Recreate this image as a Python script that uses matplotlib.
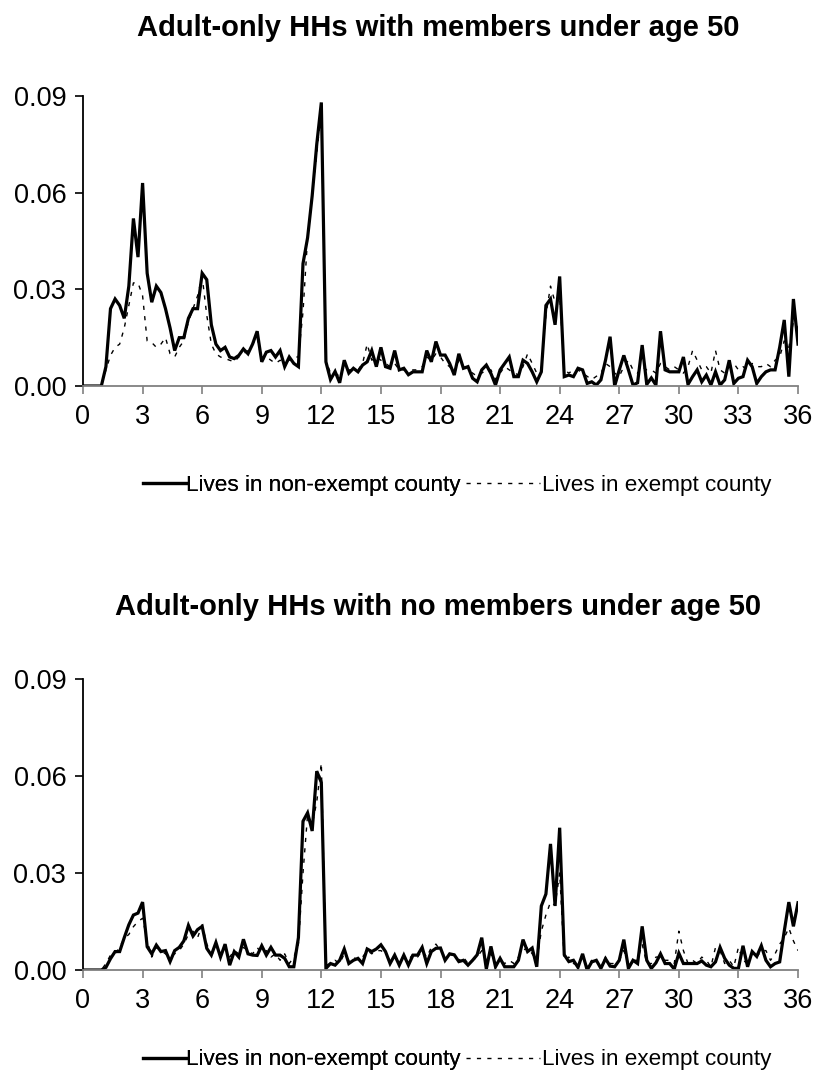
import numpy as np
import matplotlib
matplotlib.use("Agg")
import matplotlib.pyplot as plt

plt.rcParams['font.family'] = ['Liberation Sans', 'DejaVu Sans']

# weekly shares (in thousandths), weeks 0..156, 13 weeks per row
top_nonexempt = [
    0, 0, 0, 0, 0, 6, 24, 27, 25, 21, 31, 52, 40,
    63, 35, 26, 31, 29, 24, 18, 11, 15, 15, 21, 24, 24,
    35, 33, 19, 13, 11, 12, 9, 8.5, 9.5, 11.5, 10, 13, 17,
    7.5, 10.5, 11, 9, 11, 6, 9, 7, 6, 38, 46, 59, 75,
    88, 7.5, 2, 4.5, 1, 8, 4, 5.5, 4.4, 6.5, 7.5, 11, 6,
    12, 6, 5.5, 11, 5, 5.5, 3.5, 4.4, 4.4, 4.4, 11, 7.5, 13.8,
    9.6, 9.6, 7, 3.4, 10, 5.5, 6, 2.4, 1.3, 5, 6.5, 3.9, 0.3,
    5, 7, 9, 2.9, 2.9, 8, 7, 4.4, 1.3, 4.4, 25, 27, 19,
    34, 2.9, 3.4, 2.9, 5.5, 5, 0.8, 1.3, 0.3, 1.9, 8, 15.3, 0,
    5, 9.5, 5, 0.3, 1, 12.7, 0.5, 2.5, 0.3, 17, 5, 4.4, 4.4,
    4.4, 9, 0.5, 2.9, 5, 1.3, 3.4, 0.3, 4.4, 0.3, 1.9, 8, 0.8,
    2.4, 2.9, 8, 6, 0.8, 2.9, 4.4, 5, 5, 12, 20.5, 2.9, 27,
    13,
]
top_exempt = [
    0, 0, 0, 0, 0, 5, 9.5, 12, 13, 18, 25, 32, 32,
    28, 14, 13.5, 12, 13, 15, 10, 9, 12, 14, 20, 24, 28,
    34, 22, 13, 10, 9, 8.5, 8, 7.5, 9, 10, 11, 13, 15,
    8, 9, 8, 7, 8, 7.5, 8, 9, 9, 23, 46, 59, 72,
    86, 8, 4, 4, 3, 6, 5, 5, 5, 7, 13, 8, 9,
    8, 7, 6, 7, 5, 5, 4.5, 5, 5, 6, 9, 8, 10,
    9, 7, 6, 4, 8, 6, 5, 4, 3, 4, 5, 5, 2,
    4, 6, 5, 4, 3.5, 6, 10, 7, 4, 5, 22, 31, 26,
    28, 5, 4, 5, 5, 4, 3, 2, 3, 4, 7, 6, 4,
    3, 6, 8, 5, 4, 6, 5, 5, 4, 7, 6, 5, 6,
    5, 4, 6, 11, 8, 5, 6, 4, 11, 5, 4, 6, 7,
    5, 6, 5, 7, 6, 6, 7, 6, 8, 9, 14, 12, 20,
    18,
]
bot_nonexempt = [
    0, 0, 0, 0, 0, 0.8, 3.5, 5.7, 5.7, 10, 14, 17, 17.6,
    21, 7.2, 5, 7.7, 5.7, 6, 2.6, 6, 7, 9, 13.8, 10.5, 12.5,
    13.5, 6.7, 4.6, 8.5, 4, 8, 1.5, 5.7, 4, 9.5, 5, 4.6, 4.5,
    7.5, 4.6, 7, 4.6, 4.6, 3.6, 1, 1, 10, 46, 48.6, 43, 61.5,
    58, 0.5, 2, 1.5, 3, 6.5, 2, 3, 3.6, 2, 6.5, 5.7, 6.5,
    7.8, 5.7, 2, 4.6, 1.5, 4.6, 1.5, 4.6, 4.6, 7, 2, 5.7, 6.7,
    6.8, 3, 5, 4.7, 2.6, 3, 1.5, 3, 4.7, 10, 0.3, 7.3, 1,
    3.6, 1, 1, 1, 3, 9.4, 5.7, 6.8, 1, 19.8, 23.5, 39, 19.8,
    44, 4.7, 2.6, 3, 0.8, 5, 0, 2.5, 3, 0.5, 3.5, 1.2, 1,
    3, 9.4, 0.5, 3, 2, 13.5, 3, 0.5, 2.2, 5, 2, 2, 0.3,
    5.2, 2, 2, 2, 2, 2.8, 1.5, 1, 2.5, 7, 3.6, 1.5, 0.5,
    0.5, 7.5, 1, 5.7, 4.2, 7.5, 3, 1, 2, 2.5, 12, 21, 13.5,
    20.8,
]
bot_exempt = [
    0, 0, 0, 0, 0, 2, 4.6, 5, 7, 9.8, 11, 13.4, 15,
    16, 9, 4, 7, 6, 5, 4, 5, 6, 8, 11, 12, 10,
    14, 8, 5, 6, 5, 7, 4, 6, 5, 7, 6, 5, 7,
    5, 6, 4, 5, 3, 5, 2, 4, 8, 30, 48, 45, 52,
    64, 1.5, 2, 3, 2, 5, 3, 4, 3, 4, 6, 5, 6,
    6, 5, 3, 4, 3, 4, 3, 5, 4, 6, 4, 7, 8,
    6, 4, 5, 4, 3, 4, 2, 3, 4, 6, 3, 5, 2,
    3, 2, 3, 2, 4, 6, 7, 5, 3, 12, 17, 21, 20,
    30, 3, 4, 2, 1.5, 4, 1, 3, 2, 1, 4, 2, 2,
    3, 6, 2, 3, 3, 8, 2, 2, 4, 4, 3, 3, 2,
    12, 6, 2, 3, 2, 4, 3, 1, 7, 6, 2, 3, 1,
    7, 3, 2, 5, 4, 6, 6, 3, 5, 8, 10, 13, 9,
    6,
]

titles = ['Adult-only HHs with members under age 50',
          'Adult-only HHs with no members under age 50']
labels = ['Lives in non-exempt county', 'Lives in exempt county']
xticks = np.arange(0, 37, 3)
yticks = [0.0, 0.03, 0.06, 0.09]

months = np.arange(157) * 12 / 52.0

fig = plt.figure(figsize=(8.16, 10.84), dpi=100)
W, H = 816.0, 1084.0
ax1 = fig.add_axes([83 / W, 1 - 386 / H, 715 / W, 290 / H])
ax2 = fig.add_axes([83 / W, 1 - 970 / H, 715 / W, 291 / H])

panels = [
    (ax1, top_nonexempt, top_exempt, titles[0], 1 - 28 / H, 1 - 485 / H),
    (ax2, bot_nonexempt, bot_exempt, titles[1], 1 - 607 / H, 1 - 1060 / H),
]

for ax, solid, dotted, title, ty, ly in panels:
    s = np.array(solid) / 1000.0
    d = np.array(dotted) / 1000.0
    l1, = ax.plot(months, s, color='black', lw=2.3, solid_joinstyle='miter')
    l2, = ax.plot(months, d, color='black', lw=1.0, linestyle=(0, (3, 4.5)))
    ax.set_xlim(0, 36)
    ax.set_ylim(0, 0.09)
    ax.set_xticks(xticks)
    ax.set_yticks(yticks)
    ax.set_yticklabels(['%.2f' % v for v in yticks])
    for sp in ['top', 'right']:
        ax.spines[sp].set_visible(False)
    ax.spines['left'].set_color('black')
    ax.spines['left'].set_linewidth(1.3)
    ax.spines['bottom'].set_color('#808080')
    ax.spines['bottom'].set_linewidth(1.3)
    ax.tick_params(axis='y', direction='out', length=6, width=1.2,
                   color='black', pad=6, labelsize=19.5)
    ax.tick_params(axis='x', direction='out', length=6, width=1.2,
                   color='#808080', pad=7, labelsize=19.5)
    fig.text(0.537, ty, title, ha='center', va='center',
             fontsize=21, fontweight='bold')
    # two legends so the dotted key can be longer, as in the original
    leg1 = fig.legend([l1], [labels[0]], loc='center right',
                      bbox_to_anchor=(460 / W, ly), frameon=False,
                      fontsize=16.2, handlelength=1.9, handletextpad=0.0,
                      borderpad=0, borderaxespad=0)
    fig.legend([l2], [labels[1]], loc='center left',
               bbox_to_anchor=(466 / W, ly), frameon=False,
               fontsize=16.2, handlelength=3.3, handletextpad=0.1,
               borderpad=0, borderaxespad=0)
    fig.add_artist(leg1)

fig.savefig('out.png', dpi=100)
